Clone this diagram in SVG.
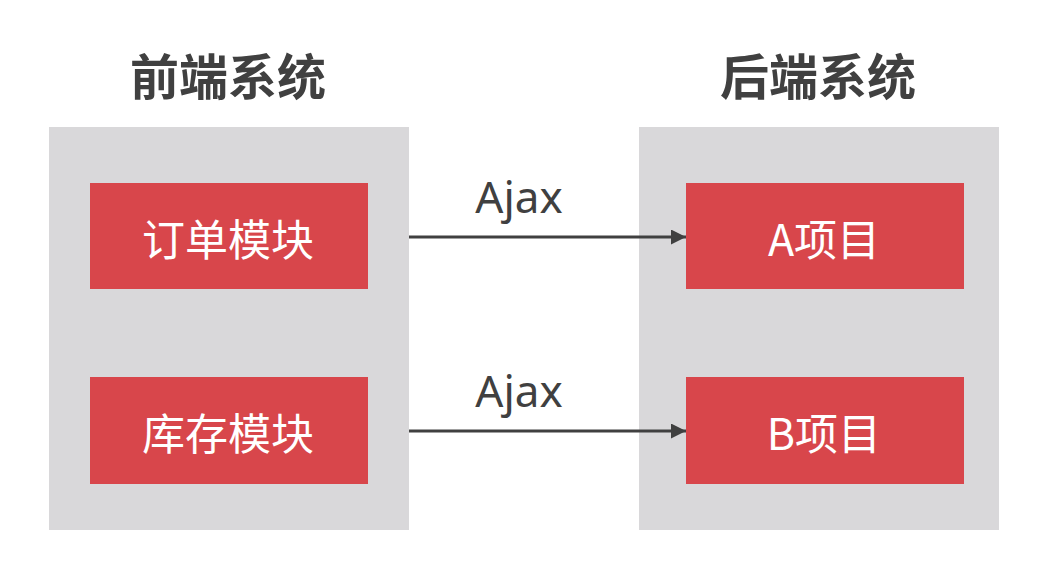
<svg xmlns="http://www.w3.org/2000/svg" width="1057" height="564" viewBox="0 0 1057 564">
<style>
.bg{fill:#ffffff}
.panel{fill:#d9d8da}
.mod{fill:#d8464b}
.title{font-family:"Noto Sans CJK SC","Noto Sans",sans-serif;font-weight:bold;font-size:49px;fill:#404040;text-anchor:middle}
.lbl{font-family:"Noto Sans CJK SC","Noto Sans",sans-serif;font-size:43px;fill:#ffffff;text-anchor:middle;dominant-baseline:central}
.ajax{font-family:"Noto Sans","Noto Sans CJK SC",sans-serif;font-size:44px;fill:#404040;text-anchor:middle}
.conn{stroke:#404040;stroke-width:3;fill:none}
</style>
<defs>
<marker id="arr" viewBox="0 0 10 10" refX="10" refY="5" markerWidth="5" markerHeight="5" markerUnits="strokeWidth" orient="auto">
<path d="M0,0 L10,5 L0,10 z" fill="#404040"/>
</marker>
</defs>
<rect class="bg" x="0" y="0" width="1057" height="564"/>
<g id="frontend">
<rect class="panel" x="49" y="127" width="360" height="403"/>
<text class="title" x="228" y="95">前端系统</text>
</g>
<g id="backend">
<rect class="panel" x="639" y="127" width="360" height="403"/>
<text class="title" x="818" y="95">后端系统</text>
</g>
<g id="order">
<rect class="mod" x="90" y="183" width="278" height="106"/>
<text class="lbl" x="228" y="237">订单模块</text>
</g>
<g id="stock">
<rect class="mod" x="90" y="377" width="278" height="107"/>
<text class="lbl" x="228" y="431">库存模块</text>
</g>
<g id="projA">
<rect class="mod" x="686" y="183" width="278" height="106"/>
<text class="lbl" x="824" y="237">A项目</text>
</g>
<g id="projB">
<rect class="mod" x="686" y="377" width="278" height="107"/>
<text class="lbl" x="824" y="431">B项目</text>
</g>
<g id="connectors">
<line class="conn" x1="409" y1="237" x2="686" y2="237" marker-end="url(#arr)"/>
<text class="ajax" x="519" y="213">Ajax</text>
<line class="conn" x1="409" y1="431" x2="686" y2="431" marker-end="url(#arr)"/>
<text class="ajax" x="519" y="407">Ajax</text>
</g>
</svg>
